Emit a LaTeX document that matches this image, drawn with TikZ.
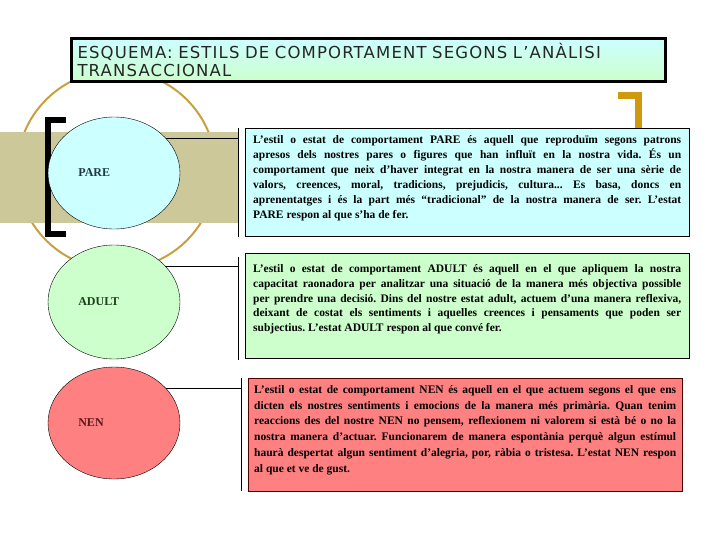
\documentclass[tikz,border=0pt]{standalone}
\usepackage{fontspec}
\setmainfont{Liberation Serif}
\newfontfamily\titlefont[LetterSpace=7]{DejaVu Sans}
\usetikzlibrary{shapes.geometric,positioning}
\frenchspacing

\definecolor{parecol}{HTML}{CCFFFF}
\definecolor{adultcol}{HTML}{CCFFCC}
\definecolor{nencol}{HTML}{FF8080}
\definecolor{bandcol}{HTML}{CCC899}
\definecolor{ringcol}{HTML}{C8A040}
\definecolor{hookcol}{HTML}{CF990F}
\definecolor{parefont}{HTML}{1F3A44}
\definecolor{adultfont}{HTML}{1E3F1E}
\definecolor{nenfont}{HTML}{5C1A1A}

\begin{document}
\begin{tikzpicture}[x=1pt, y=-1pt,
titlebox/.style={draw, line width=3pt, top color=parecol, bottom color=adultcol, minimum width=594pt, minimum height=43pt, inner xsep=6pt, text width=582pt, align=left, font=\titlefont\fontsize{16.5}{18}\selectfont, text=black!85},
state/.style={draw, thin, ellipse, minimum width=132pt, minimum height=112pt, inner sep=0pt},
statelbl/.style={font=\bfseries\fontsize{12}{14}\selectfont},
desc/.style={draw, thin, anchor=north west, inner xsep=8pt, inner ysep=0pt, text width=428pt, align=justify, font=\bfseries\fontsize{11.5}{15}\selectfont},
bar/.style={thin},
link/.style={thin}
]
\useasboundingbox (0,0) rectangle (720,540);
% gold ring and band behind PARE
\draw[ringcol, line width=2pt] (116.5,170) circle[radius=99.5];
\fill[bandcol] (0,132) rectangle (238,223);
% title
\node[titlebox] (title) at (368.5,60) {ESQUEMA: ESTILS DE COMPORTAMENT SEGONS L’ANÀLISI\\TRANSACCIONAL};
% brackets
\draw[line width=6pt] (66,120) -- (48,120) -- (48,234) -- (66,234);
\draw[hookcol, line width=7pt] (618,95.5) -- (638,95.5) -- (638,130);
% states
\node[state, fill=parecol] (pare) at (114,173) {};
\node[state, fill=adultcol, minimum height=114pt] (adult) at (114,302) {};
\node[state, fill=nencol] (nen) at (114,423) {};
\node[statelbl, text=parefont, right=27pt of pare.west] (parelbl) {PARE};
\node[statelbl, text=adultfont, right=27pt of adult.west] (adultlbl) {ADULT};
\node[statelbl, text=nenfont, right=27pt of nen.west] (nenlbl) {NEN};
% descriptions
\node[desc, fill=parecol, text height=15pt, text depth=93pt] (paretext) at (245,128) {L’estil o estat de comportament PARE és aquell que reproduïm segons patrons\linebreak apresos dels nostres pares o figures que han influït en la nostra vida. És un\linebreak comportament que neix d’haver integrat en la nostra manera de ser una sèrie de\linebreak valors, creences, moral, tradicions, prejudicis, cultura... Es basa, doncs en\linebreak aprenentatges i és la part més “tradicional” de la nostra manera de ser. L’estat\linebreak PARE respon al que s’ha de fer.};
\node[desc, fill=adultcol, font=\bfseries\fontsize{11.5}{14.7}\selectfont, text height=19.5pt, text depth=85.5pt] (adulttext) at (245,253) {L’estil o estat de comportament ADULT és aquell en el que apliquem la nostra\linebreak capacitat raonadora per analitzar una situació de la manera més objectiva possible\linebreak per prendre una decisió. Dins del nostre estat adult, actuem d’una manera reflexiva,\linebreak deixant de costat els sentiments i aquelles creences i pensaments que poden ser\linebreak subjectius. L’estat ADULT respon al que convé fer.};
\node[desc, fill=nencol, draw=black!70!red, inner xsep=6pt, text width=422pt, font=\bfseries\fontsize{11.5}{15.8}\selectfont, text height=15pt, text depth=98pt] (nentext) at (248,378) {L’estil o estat de comportament NEN és aquell en el que actuem segons el que ens\linebreak dicten els nostres sentiments i emocions de la manera més primària. Quan tenim\linebreak reaccions des del nostre NEN no pensem, reflexionem ni valorem si està bé o no la\linebreak nostra manera d’actuar. Funcionarem de manera espontània perquè algun estímul\linebreak haurà despertat algun sentiment d’alegria, por, ràbia o tristesa. L’estat NEN respon\linebreak al que et ve de gust.};
% bars and links
\coordinate (pbar) at (238,128);
\coordinate (pbarend) at (238,237);
\coordinate (abar) at (238,257);
\coordinate (abarend) at (238,360);
\coordinate (nbar) at (241,378);
\coordinate (nbarend) at (241,491);
\draw[bar] (pbar) -- (pbarend);
\draw[bar] (abar) -- (abarend);
\draw[bar] (nbar) -- (nbarend);
\draw[link] (pare.34) -- (pare.34 -| pbar);
\draw[link] (adult.35) -- (adult.35 -| abar);
\draw[link] (nen.34) -- (nen.34 -| nbar);
\end{tikzpicture}
\end{document}
